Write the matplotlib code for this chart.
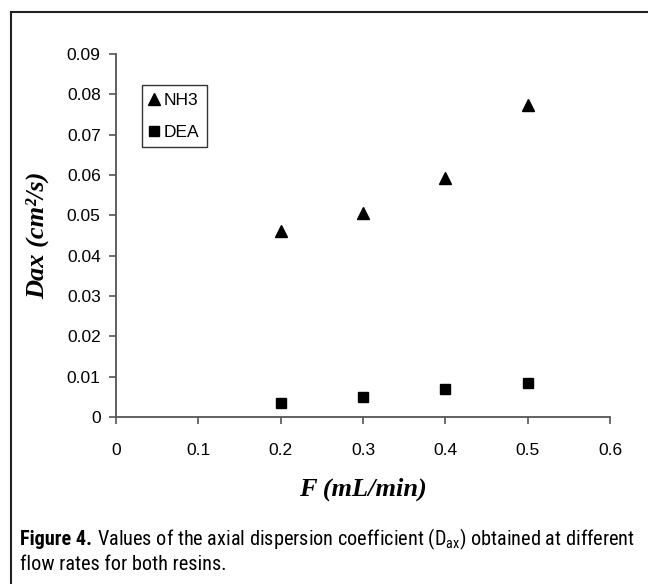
import matplotlib
matplotlib.use("Agg")
import matplotlib.pyplot as plt
from matplotlib.lines import Line2D
from matplotlib import font_manager

# flow rate (mL/min) and axial dispersion (cm2/s)
flow = [0.2, 0.3, 0.4, 0.5]
dax_nh3 = [0.0461, 0.0506, 0.0593, 0.0774]
dax_dea = [0.0034, 0.0050, 0.0069, 0.0084]
x_ticks = [0, 0.1, 0.2, 0.3, 0.4, 0.5, 0.6]
y_ticks = [0, 0.01, 0.02, 0.03, 0.04, 0.05, 0.06, 0.07, 0.08, 0.09]

# caption: pick a narrow face if one is installed
names = {f.name for f in font_manager.fontManager.ttflist}
cap_fam = "Liberation Sans"
for cand in ["Liberation Sans Narrow", "Roboto Condensed", "Open Sans Condensed", "Arial Narrow"]:
    if cand in names:
        cap_fam = cand
        break
plt.rcParams["mathtext.fontset"] = "custom"
plt.rcParams["mathtext.rm"] = cap_fam

W, H = 648, 584
fig = plt.figure(figsize=(W / 100, H / 100), dpi=100)

# axes box in pixels: left 116, right 610, top 54, bottom 417
ax = fig.add_axes([116 / W, 1 - 417 / H, (610 - 116) / W, (417 - 54) / H])

ax.plot(flow, dax_nh3, linestyle="none", marker="^", color="black", markersize=8, label="NH3")
ax.plot(flow, dax_dea, linestyle="none", marker="s", color="black", markersize=7, label="DEA")

ax.set_xlim(0, 0.6)
ax.set_ylim(0, 0.09)
ax.set_xticks(x_ticks)
ax.set_yticks(y_ticks)
ax.set_xticklabels(["0" if t == 0 else f"{t:g}" for t in x_ticks])
ax.set_yticklabels(["0" if t == 0 else f"{t:.2f}" for t in y_ticks])

for s in ["top", "right"]:
    ax.spines[s].set_visible(False)
for s in ["left", "bottom"]:
    ax.spines[s].set_color("#555555")
    ax.spines[s].set_linewidth(1.3)
ax.tick_params(direction="out", length=5, width=1.2, color="#555555",
               labelsize=12.5, pad=6)
for lab in ax.get_xticklabels() + ax.get_yticklabels():
    lab.set_family("Liberation Sans")
ax.tick_params(axis="x", pad=14)

lbl_font = dict(family="Liberation Serif", weight="bold", style="italic", size=19)
ax.set_xlabel("F (mL/min)", **lbl_font)
ax.set_ylabel("Dax (cm²/s)", **lbl_font)
ax.xaxis.set_label_coords(0.5, -0.168)
ax.yaxis.set_label_coords(-0.136, 0.5)

leg = ax.legend(loc="upper left", bbox_to_anchor=(26 / 494, 1 - 31 / 363),
                borderaxespad=0, frameon=True, fancybox=False, handlelength=0.5,
                handletextpad=0.3, borderpad=0.45, labelspacing=0.95,
                prop={"family": "Liberation Sans", "size": 12.5})
leg.get_frame().set_edgecolor("black")
leg.get_frame().set_linewidth(1.0)

# outer frame (left and top edges only visible)
fig.add_artist(Line2D([11 / W, 11 / W], [0, 1 - 12 / H], color="#222222", linewidth=1.5))
fig.add_artist(Line2D([11 / W, 1], [1 - 12 / H, 1 - 12 / H], color="#222222", linewidth=1.5))

cap_size = 13
line1 = "Values of the axial dispersion coefficient (D$_{\\rm ax}$) obtained at different"
renderer = fig.canvas.get_renderer()
t1 = fig.text(0, 0, "Figure 4.", family=cap_fam, weight="bold", size=cap_size)
t2 = fig.text(0, 0, line1, family=cap_fam, size=cap_size)
w_total = t1.get_window_extent(renderer).width + 5 + t2.get_window_extent(renderer).width
t1.remove()
t2.remove()
cap_size = cap_size * 615 / w_total

t1 = fig.text(20 / W, 1 - 545 / H, "Figure 4.", family=cap_fam, weight="bold",
              size=cap_size, va="baseline")
w1 = t1.get_window_extent(renderer).width
fig.text((20 + w1 + 5) / W, 1 - 545 / H, line1, family=cap_fam, size=cap_size, va="baseline")
fig.text(20 / W, 1 - 570 / H, "flow rates for both resins.", family=cap_fam,
         size=cap_size, va="baseline")

fig.savefig("out.png", dpi=100)
